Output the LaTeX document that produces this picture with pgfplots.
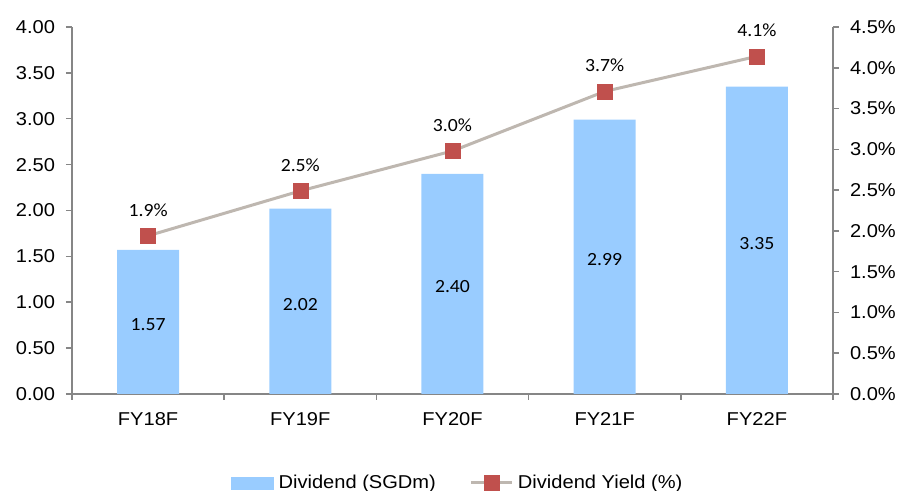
\documentclass[border=0pt]{standalone}
\usepackage{pgfplots}
\pgfplotsset{compat=1.18}
\usepackage{fontspec}
\setmainfont{Liberation Sans}[FakeStretch=1.08]
\newfontfamily\calibri{Carlito}[FakeStretch=1.06]

\definecolor{barblue}{RGB}{153,204,255}
\definecolor{mkred}{RGB}{192,80,77}
\definecolor{linegray}{RGB}{190,183,176}
\definecolor{axgray}{RGB}{134,134,134}

\newcommand{\lblfont}{\fontsize{9.3}{11}\selectfont}
\newcommand{\valfont}{\calibri\fontsize{9.3}{11}\selectfont}

\pgfplotsset{
  base/.style={
    scale only axis, width=380.5pt, height=183.5pt,
    at={(36pt,48.5pt)}, anchor=south west,
    xmin=-0.5, xmax=4.5,
    axis line style={axgray, line width=0.75pt},
    tick style={axgray, line width=0.75pt},
    tick align=outside,
    major tick length=3pt,
    tick label style={font=\lblfont, text=black},
    /pgf/number format/assume math mode=true,
  },
  linelegend/.style={
    legend image code/.code={\draw[##1, mark repeat=2, mark phase=2]
      plot coordinates {(0pt,0pt) (10.15pt,0pt) (20.3pt,0pt)};}
  },
}

\begin{document}
\begin{tikzpicture}
\useasboundingbox (0,0) rectangle (450.5pt,245.5pt);

% Dividend bars (left axis)
\begin{axis}[base,
  ymin=0, ymax=4,
  axis x line*=bottom, axis y line*=left,
  ytick={0,0.5,1,1.5,2,2.5,3,3.5,4},
  yticklabels={0.00,0.50,1.00,1.50,2.00,2.50,3.00,3.50,4.00},
  yticklabel style={xshift=-2pt},
  xtick={-0.5,0.5,1.5,2.5,3.5,4.5},
  xticklabels={},
  extra x ticks={0,1,2,3,4},
  extra x tick labels={FY18F,FY19F,FY20F,FY21F,FY22F},
  extra x tick style={major tick length=0pt, xticklabel style={yshift=-5.75pt}},
]
\addplot[ybar, bar width=31pt, fill=barblue, draw=none,
  point meta=y,
  visualization depends on={rawy \as \rawy},
  nodes near coords={\pgfmathprintnumber[fixed,fixed zerofill,precision=2]{\pgfplotspointmeta}},
  every node near coord/.append style={font=\valfont, text=black,
    anchor=base, inner sep=0pt, yshift={-\rawy*22.9375-4.5}},
] coordinates {(0,1.57) (1,2.02) (2,2.40) (3,2.99) (4,3.35)};
\end{axis}

% Dividend yield line (right axis)
\begin{axis}[base,
  ymin=0, ymax=4.5,
  axis x line=none, axis y line*=right,
  ytick={0,0.5,1,1.5,2,2.5,3,3.5,4,4.5},
  yticklabels={0.0\%,0.5\%,1.0\%,1.5\%,2.0\%,2.5\%,3.0\%,3.5\%,4.0\%,4.5\%},
  yticklabel style={xshift=2pt},
  legend columns=2,
  legend style={at={(axis description cs:0.2089,-0.2425)}, anchor=west,
    draw=none, fill=none, inner sep=0pt, font=\lblfont,
    nodes={inner sep=0pt},
    /tikz/every odd column/.append style={column sep=2.2pt},
    /tikz/every even column/.append style={column sep=17pt}},
]
\addlegendimage{legend image code/.code={\fill[barblue] (0pt,-3pt) rectangle (21pt,3pt);}}
\addlegendentry{Dividend (SGDm)}
\addplot[linegray, line width=1.5pt,
  mark=square*, mark size=3.75pt,
  mark options={fill=mkred, draw=mkred, line width=0.2pt},
  point meta=explicit symbolic,
  nodes near coords,
  every node near coord/.append style={font=\valfont, text=black,
    anchor=base, inner sep=0pt, yshift=9.85pt},
  linelegend,
] coordinates {(0,1.94) [1.9\%] (1,2.49) [2.5\%] (2,2.98) [3.0\%] (3,3.71) [3.7\%] (4,4.14) [4.1\%]};
\addlegendentry{Dividend Yield (\%)}
\end{axis}
\end{tikzpicture}
\end{document}
